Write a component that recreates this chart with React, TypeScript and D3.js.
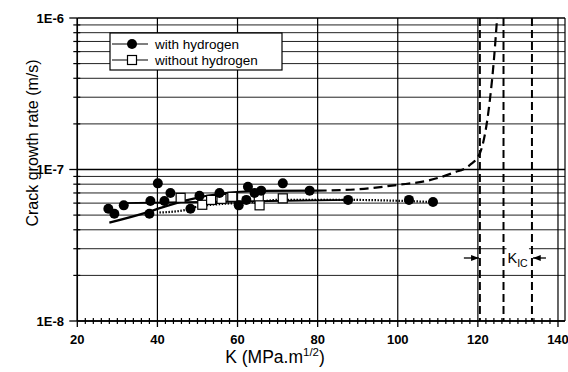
import * as d3 from "d3";

// with hydrogen (filled circles): K, rate
const withH: [number, number][] = [
  [27.75, 5.5e-8], [29.25, 5.1e-8], [31.6, 5.8e-8], [38, 5.1e-8], [38.25, 6.2e-8],
  [40.1, 8.1e-8], [41.75, 6.2e-8], [43.25, 7.0e-8], [48.25, 5.5e-8], [50.5, 6.7e-8],
  [55.5, 7.0e-8], [60.3, 5.8e-8], [62.2, 6.3e-8], [62.6, 7.7e-8], [64.25, 7.0e-8],
  [65.9, 7.25e-8], [71.3, 8.1e-8], [78, 7.25e-8], [87.6, 6.3e-8], [102.8, 6.3e-8],
  [108.8, 6.1e-8],
];
// without hydrogen (open squares)
const withoutH: [number, number][] = [
  [45.8, 6.5e-8], [51.2, 5.85e-8], [53.4, 6.3e-8], [56, 6.4e-8], [58.7, 6.6e-8],
  [65.3, 6.4e-8], [65.5, 5.8e-8], [71.3, 6.45e-8],
];
// fitted curves
const fitH: [number, number][] = [
  [28, 4.46e-8], [38, 5.27e-8], [41, 5.6e-8], [48.5, 6.38e-8], [57, 7.0e-8],
  [65.5, 7.22e-8], [80, 7.25e-8],
];
const fitHExtrap: [number, number][] = [
  [80, 7.25e-8], [90, 7.4e-8], [99.75, 7.9e-8], [108, 8.5e-8], [113.75, 9.5e-8],
  [118, 1.07e-7], [120.5, 1.28e-7], [123, 2.88e-7], [124, 5.28e-7], [124.8, 1e-6],
];
const fitNoH: [number, number][] = [[31, 6.0e-8], [60, 6.15e-8], [87.6, 6.3e-8]];
const fitLow: [number, number][] = [
  [40.5, 5.2e-8], [47, 5.4e-8], [50, 5.7e-8], [66, 6.15e-8], [70, 6.3e-8],
  [87.6, 6.3e-8], [108.8, 6.1e-8],
];
const kicLines = [120.5, 126.4, 133.5];
const xTicks = [20, 40, 60, 80, 100, 120, 140];
const yTicks = [1e-8, 1e-7, 1e-6];
const yTickLabels = ["1E-8", "1E-7", "1E-6"];

const W = 568, H = 372;
const L = 77.3, R = 565, T = 18, B = 321;

export default function App() {
  const x = d3.scaleLinear().domain([20, 141.75]).range([L, R]);
  const y = d3.scaleLog().domain([1e-8, 1e-6]).range([B, T]);

  const minorY: number[] = [];
  for (const dec of [1e-8, 1e-7]) for (let m = 2; m <= 9; m++) minorY.push(dec * m);
  const minorX = d3.range(22, 141, 2).filter((v) => v % 20 !== 0);

  const line = d3
    .line<[number, number]>()
    .x((d) => x(d[0]))
    .y((d) => y(d[1]))
    .curve(d3.curveMonotoneX);

  const font = "'Liberation Sans', Arial, sans-serif";
  const arrowY = 258;

  return (
    <svg
      width={W}
      height={H}
      style={{ position: "absolute", left: 0, top: 0, background: "#fff" }}
      fontFamily={font}
    >
      <defs>
        <marker id="ah" viewBox="0 0 10 10" refX="10" refY="5" markerWidth="6" markerHeight="6" orient="auto">
          <path d="M0,1 L10,5 L0,9 z" fill="#000" />
        </marker>
      </defs>

      {/* horizontal grid */}
      {minorY.map((v) => (
        <line key={"hy" + v} x1={L} x2={R} y1={y(v)} y2={y(v)} stroke="#222" strokeWidth={1} />
      ))}
      {yTicks.map((v) => (
        <line key={"hm" + v} x1={L} x2={R} y1={y(v)} y2={y(v)} stroke="#000" strokeWidth={1.3} />
      ))}
      {/* vertical grid */}
      {xTicks.map((v) => (
        <line key={"vx" + v} x1={x(v)} x2={x(v)} y1={T} y2={B} stroke="#000" strokeWidth={1.2} />
      ))}
      <line x1={R} x2={R} y1={T} y2={B} stroke="#000" strokeWidth={1.2} />

      {/* axis ticks */}
      {minorY.map((v) => (
        <line key={"ty" + v} x1={L - 4} x2={L + 3} y1={y(v)} y2={y(v)} stroke="#000" strokeWidth={1.2} />
      ))}
      {yTicks.map((v) => (
        <line key={"tym" + v} x1={L - 8} x2={L} y1={y(v)} y2={y(v)} stroke="#000" strokeWidth={1.3} />
      ))}
      {minorX.map((v) => (
        <line key={"tx" + v} x1={x(v)} x2={x(v)} y1={B - 3} y2={B + 3} stroke="#000" strokeWidth={1.2} />
      ))}
      {xTicks.map((v) => (
        <line key={"txm" + v} x1={x(v)} x2={x(v)} y1={B} y2={B + 6} stroke="#000" strokeWidth={1.3} />
      ))}
      <line x1={L} x2={L} y1={T} y2={B} stroke="#000" strokeWidth={1.5} />
      <line x1={L} x2={R} y1={B} y2={B} stroke="#000" strokeWidth={1.5} />

      {/* tick labels */}
      {xTicks.map((v) => (
        <text key={"lx" + v} x={x(v)} y={344} textAnchor="middle" fontSize={13} fontWeight="bold">
          {v}
        </text>
      ))}
      {yTicks.map((v, i) => (
        <text key={"ly" + v} x={64} y={y(v) + 4.5} textAnchor="end" fontSize={13} fontWeight="bold">
          {yTickLabels[i]}
        </text>
      ))}

      {/* axis titles */}
      <text transform="translate(38,143) rotate(-90)" textAnchor="middle" fontSize={16}>
        Crack growth rate (m/s)
      </text>
      <text x={275} y={363} textAnchor="middle" fontSize={17.5}>
        K (MPa.m<tspan dy={-7} fontSize={11.5}>1/2</tspan>
        <tspan dy={7}>)</tspan>
      </text>

      {/* K_IC dashed verticals */}
      {kicLines.map((v) => (
        <line key={"k" + v} x1={x(v)} x2={x(v)} y1={T} y2={B} stroke="#000" strokeWidth={2} strokeDasharray="8,4" />
      ))}
      <rect x={x(kicLines[1]) + 3} y={arrowY - 12} width={x(kicLines[2]) - x(kicLines[1]) - 6} height={22} fill="#fff" />
      <text x={x(kicLines[1]) + 4} y={arrowY + 5} fontSize={14.5}>
        K<tspan dy={4} fontSize={10.5}>IC</tspan>
      </text>
      <line x1={x(kicLines[0]) - 16} x2={x(kicLines[0]) - 1} y1={arrowY} y2={arrowY} stroke="#000" strokeWidth={1.3} markerEnd="url(#ah)" />
      <line x1={x(kicLines[2]) + 14} x2={x(kicLines[2]) + 1} y1={arrowY} y2={arrowY} stroke="#000" strokeWidth={1.3} markerEnd="url(#ah)" />

      {/* fits */}
      <path d={line(fitNoH) ?? ""} fill="none" stroke="#000" strokeWidth={1.8} />
      <path d={line(fitLow) ?? ""} fill="none" stroke="#000" strokeWidth={2.2} strokeDasharray="1.5,1.5" />
      <path d={line(fitH) ?? ""} fill="none" stroke="#000" strokeWidth={2.2} />
      <path d={line(fitHExtrap) ?? ""} fill="none" stroke="#000" strokeWidth={2.2} strokeDasharray="9,5" />

      {/* markers */}
      {withoutH.map((d, i) => (
        <rect key={"s" + i} x={x(d[0]) - 4.5} y={y(d[1]) - 4.5} width={9} height={9} fill="#fff" stroke="#000" strokeWidth={1.2} />
      ))}
      {withH.map((d, i) => (
        <circle key={"c" + i} cx={x(d[0])} cy={y(d[1])} r={5} fill="#000" />
      ))}

      {/* legend */}
      <g transform="translate(110,33)">
        <rect x={0} y={0} width={172} height={37} fill="#fff" stroke="#000" strokeWidth={1.2} />
        <line x1={2} x2={38} y1={11} y2={11} stroke="#000" strokeWidth={1.2} />
        <circle cx={22} cy={11} r={5} fill="#000" />
        <text x={45} y={16} fontSize={13.5}>with hydrogen</text>
        <line x1={2} x2={38} y1={27} y2={27} stroke="#000" strokeWidth={1.2} />
        <rect x={17.5} y={22.5} width={9} height={9} fill="#fff" stroke="#000" strokeWidth={1.2} />
        <text x={45} y={32} fontSize={13.5}>without hydrogen</text>
      </g>
    </svg>
  );
}
